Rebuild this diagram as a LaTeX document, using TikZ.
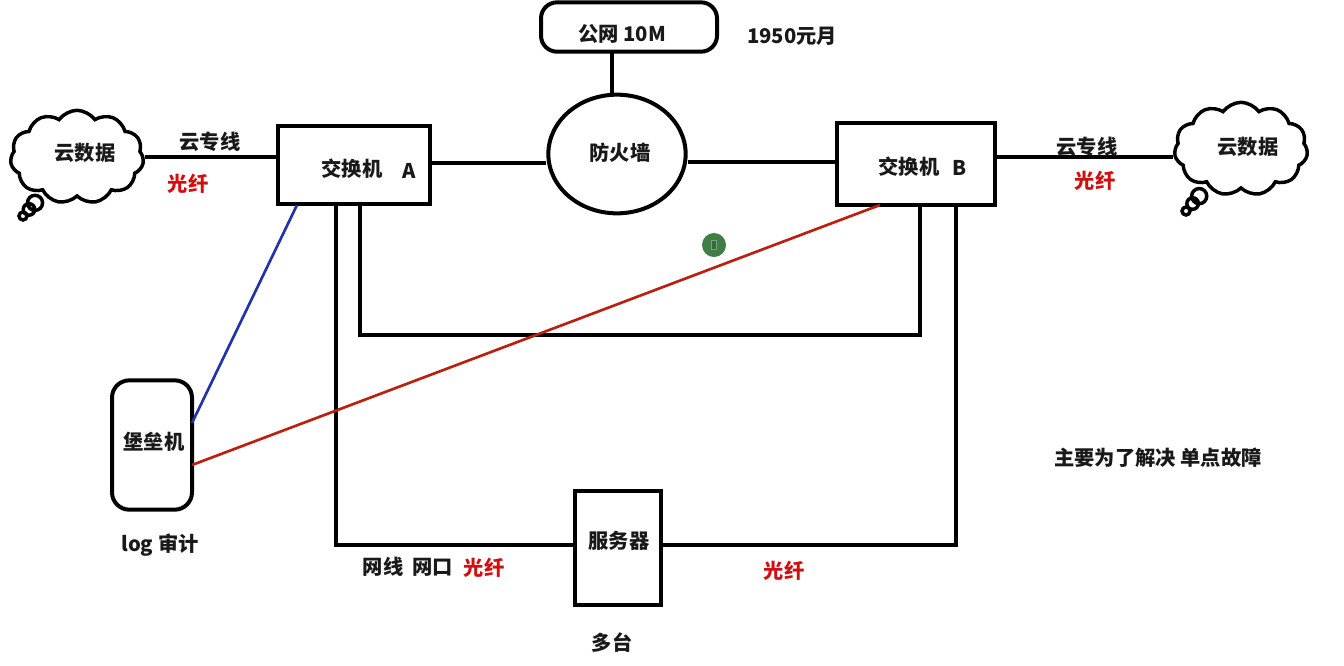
\documentclass[tikz,border=0pt]{standalone}
\usepackage{fontspec}
\setmainfont{Noto Sans CJK SC}
\usetikzlibrary{shapes.geometric}
\usetikzlibrary{shapes.callouts}

\tikzset{
	box/.style={draw, line width=3pt, inner sep=0pt},
	cloudbox/.style={draw, line width=2.6pt, cloud callout, cloud puffs=11, cloud puff arc=110, aspect=1.5, inner sep=0pt, minimum width=100pt, minimum height=70pt, callout pointer segments=3, callout pointer start size=14pt, callout pointer end size=6pt},
	wire/.style={line width=3pt},
	txt/.style={font=\fontsize{15.2}{17}\selectfont\bfseries, text=black!90, inner sep=0pt},
	redtxt/.style={txt, text=fibrered},
}
\definecolor{fibrered}{HTML}{D01010}
\definecolor{rackred}{HTML}{B8200F}
\definecolor{rackblue}{HTML}{2233A8}
\definecolor{dotgreen}{HTML}{3F7F45}

\begin{document}
\begin{tikzpicture}[x=0.75pt, y=-0.75pt]
	\useasboundingbox (0,0) rectangle (1344,665);
	\node[box, minimum width=114pt, minimum height=59pt] (swA) at (354,165) {};
	\node[box, minimum width=119pt, minimum height=61pt] (swB) at (916,164) {};
	\node[box, ellipse, minimum width=103pt, minimum height=89pt] (fw) at (617,154) {};
	\node[box, rounded corners=12pt, minimum width=132pt, minimum height=37pt] (pub) at (629,27) {};
	\node[box, rounded corners=13pt, minimum width=60pt, minimum height=97pt] (bastion) at (152,445) {};
	\node[box, minimum width=64pt, minimum height=85pt] (server) at (618,548) {};
	\node[cloudbox, callout absolute pointer={(23,216)}] (cloudL) at (77,157) {};
	\node[cloudbox, callout absolute pointer={(1186,211)}] (cloudR) at (1241,149) {};

	\coordinate (topFw) at (612,52);
	\coordinate (aOuter) at (336,205);
	\coordinate (aInner) at (360,205);
	\coordinate (aBlue) at (297,205);
	\coordinate (bInner) at (920,205);
	\coordinate (bOuter) at (956,205);
	\coordinate (bRed) at (880,205);
	\coordinate (bastionBlue) at (192,423);
	\coordinate (bastionRed) at (192,465);

	\draw[wire] (cloudL.east) -- (cloudL.east -| swA.west);
	\draw[wire] (swA.east |- 0,163) -- (fw.west |- 0,163);
	\draw[wire] (fw.east |- 0,162) -- (swB.west |- 0,162);
	\draw[wire] (swB.east |- 0,157) -- (cloudR.west |- 0,157);
	\draw[wire] (topFw) -- (fw.north -| topFw);
	\draw[wire] (aInner) -- (360,335) -- (920,335) -- (bInner);
	\draw[wire] (aOuter) -- (336,545) -- (server.west |- 0,545);
	\draw[wire] (bOuter) -- (956,545) -- (server.east |- 0,545);
	\draw[line width=2pt, rackblue] (aBlue) -- (bastionBlue);
	\draw[line width=2pt, rackred] (bRed) -- (bastionRed);

	\foreach \nm/\x/\y/\lbl in {
		tA/352/169/交换机, tAa/409/171/A, tB/909/167/交换机, tBb/960/168/B,
		tFw/620/153/防火墙, tCl/85/153/云数据, tCr/1248/147/云数据,
		tLineL/210/142/云专线, tLineR/1087/147/云专线, tPub/622/34/公网 10M,
		tPrice/792/36/1950元月, tBast/154/442/堡垒机, tLog/160/545/log 审计,
		tNet/408/567/网线\ \ 网口, tSrv/619/541/服务器, tMany/612/643/多台,
		tNote/1158/458/主要为了解决 单点故障} {
		\node[txt] (\nm) at (\x,\y) {\lbl};
	}
	\foreach \nm/\x/\y in {rL/188/184, rR/1095/181, rNet/484/568, rSrv/784/571} {
		\node[redtxt] (\nm) at (\x,\y) {光纤};
	}
	\node[circle, fill=dotgreen, minimum size=18pt, inner sep=0pt] (dot) at (714,245) {};
	\node[draw=dotgreen!70, fill=dotgreen!85!black, minimum width=3.5pt, minimum height=7pt, inner sep=0pt, line width=0.4pt] (dotMark) at (dot) {};
\end{tikzpicture}
\end{document}
